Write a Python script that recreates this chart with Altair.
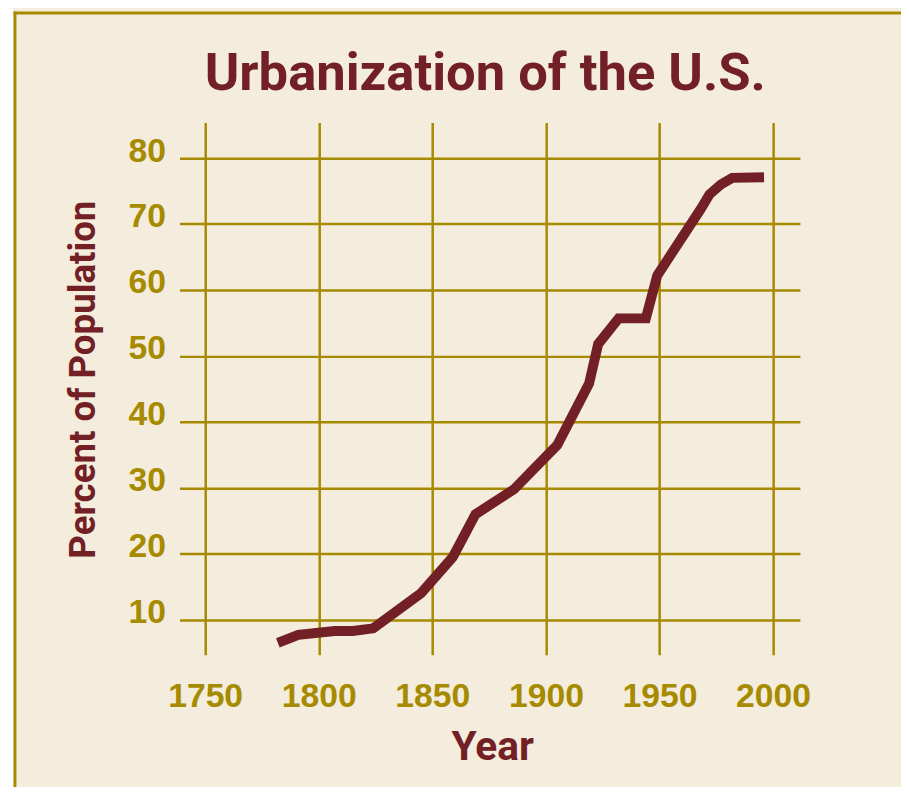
import altair as alt
import pandas as pd

# ---- data ----
years = [1782, 1791, 1807, 1815, 1824, 1845, 1859, 1869, 1886, 1905,
         1919, 1923, 1932, 1944, 1949, 1968, 1972, 1977, 1982, 1996]
percent = [6.5, 7.7, 8.3, 8.3, 8.7, 14.0, 19.5, 26.0, 29.8, 36.5,
           45.8, 51.8, 55.7, 55.7, 62.2, 72.2, 74.5, 76.0, 77.0, 77.1]
x_ticks = [1750, 1800, 1850, 1900, 1950, 2000]
y_ticks = [10, 20, 30, 40, 50, 60, 70, 80]
title_text = "Urbanization of the U.S."
x_title = "Year"
y_title = "Percent of Population"

BG = "#F4ECDC"
GOLD = "#A68A00"
RED = "#722025"
COND = "Roboto, Liberation Sans, sans-serif"
SANS = "Liberation Sans, Arial, sans-serif"

df = pd.DataFrame({"year": years, "pct": percent})

W, H = 626, 537

line = alt.Chart(df).mark_line(
    color=RED, strokeWidth=10, strokeCap="butt", strokeJoin="miter"
).encode(
    x=alt.X("year:Q",
            scale=alt.Scale(domain=[1738.7, 2011.8], nice=False, zero=False),
            axis=alt.Axis(values=x_ticks, format="d", grid=True, domain=False, ticks=False,
                          labelFont=SANS, labelFontSize=34, labelFontWeight="bold",
                          labelColor=GOLD, labelPadding=25, labelBaseline="top",
                          title=x_title, titleFont=COND, titleFontSize=41,
                          titleFontWeight="bold", titleColor=RED,
                          titleX=315.5, titleY=106, titleAlign="center",
                          titleBaseline="alphabetic")),
    y=alt.Y("pct:Q",
            scale=alt.Scale(domain=[4.7, 85.4], nice=False, zero=False),
            axis=alt.Axis(values=y_ticks, grid=True, domain=False, ticks=False,
                          labelFont=SANS, labelFontSize=34, labelFontWeight="bold",
                          labelColor=GOLD, labelPadding=14, labelBaseline="alphabetic",
                          labelOffset=3,
                          title=y_title, titleFont=COND, titleFontSize=37,
                          titleFontWeight="bold", titleColor=RED,
                          titleAngle=270, titleX=-86, titleY=259, titleAlign="center",
                          titleBaseline="alphabetic")),
)

title = alt.Chart(pd.DataFrame({"t": [title_text]})).mark_text(
    font=COND, fontSize=53, fontWeight="bold", color=RED,
    align="center", baseline="alphabetic"
).encode(text="t:N", x=alt.value(308.5), y=alt.value(-33))

frame_white = alt.Chart(pd.DataFrame({"a": [0]})).mark_rect(color="white").encode(
    x=alt.value(-174), x2=alt.value(-167.5), y=alt.value(-115), y2=alt.value(700))
frame_top = alt.Chart(pd.DataFrame({"a": [0]})).mark_rule(color=GOLD, strokeWidth=3).encode(
    x=alt.value(-167.5), x2=alt.value(760), y=alt.value(-110.5))
frame_left = alt.Chart(pd.DataFrame({"a": [0]})).mark_rule(color=GOLD, strokeWidth=3).encode(
    x=alt.value(-166), y=alt.value(-112), y2=alt.value(700))

chart = alt.layer(frame_white, frame_top, frame_left, title, line).properties(
    width=W, height=H,
    autosize=alt.AutoSizeParams(type="none"),
    padding={"left": 173, "top": 112, "right": 102, "bottom": 130},
    background=BG,
).configure_view(stroke=None).configure_axis(
    gridColor=GOLD, gridWidth=2.5, gridOpacity=1
)

chart.save("out.html", embed_options={"renderer": "svg", "actions": False})
